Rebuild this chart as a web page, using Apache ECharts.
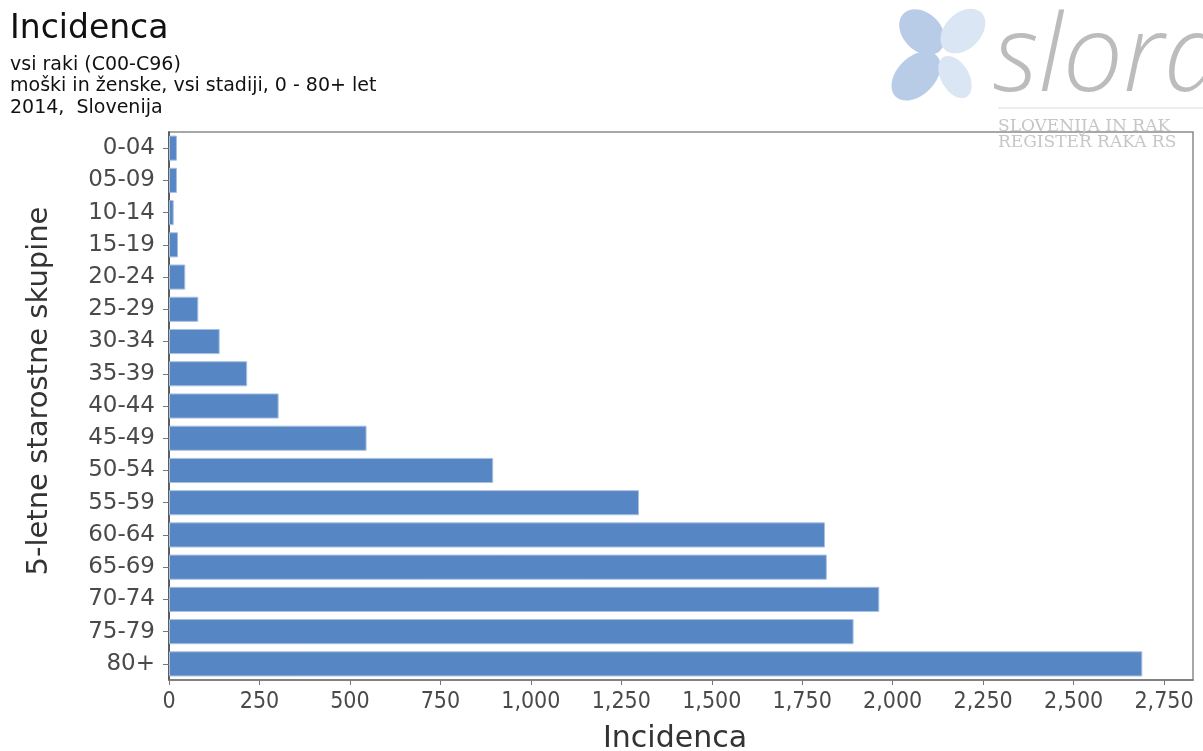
<!DOCTYPE html>
<html>
<head>
<meta charset="utf-8">
<script src="https://cdn.jsdelivr.net/npm/echarts@6/dist/echarts.min.js"></script>
<style>
html,body{margin:0;padding:0;background:#fff;}
#chart{width:1203px;height:751px;}
</style>
</head>
<body>
<div id="chart"></div>
<script>
const categories = ['0-04','05-09','10-14','15-19','20-24','25-29','30-34','35-39','40-44','45-49','50-54','55-59','60-64','65-69','70-74','75-79','80+'];
const incidence = [22, 22, 13, 25, 45, 81, 140, 216, 303, 546, 896, 1299, 1813, 1818, 1963, 1892, 2690];
const titleText = 'Incidenca';
const subtitleLines = ['vsi raki (C00-C96)', 'moški in ženske, vsi stadiji, 0 - 80+ let', '2014,  Slovenija'];
const xAxisName = 'Incidenca';
const yAxisName = '5-letne starostne skupine';

const chart = echarts.init(document.getElementById('chart'));
const option = {
  animation: false,
  backgroundColor: '#fff',
  title: {
    text: titleText,
    subtext: subtitleLines.join('\n'),
    left: 5, top: 8,
    itemGap: 8,
    textStyle: {fontFamily: 'DejaVu Sans', fontSize: 33, fontWeight: 'normal', color: '#111'},
    subtextStyle: {fontFamily: 'DejaVu Sans', fontSize: 19, color: '#111', lineHeight: 21.5}
  },
  graphic: [
    {type: 'ellipse', x: 922, y: 32, rotation: -Math.PI/4, shape: {cx: 0, cy: 0, rx: 26, ry: 19}, style: {fill: '#b9cce7'}},
    {type: 'ellipse', x: 963, y: 31, rotation: Math.PI/4, shape: {cx: 0, cy: 0, rx: 26, ry: 18}, style: {fill: '#dae6f4'}},
    {type: 'ellipse', x: 916, y: 76, rotation: Math.PI/4, shape: {cx: 0, cy: 0, rx: 29, ry: 19}, style: {fill: '#b9cce7'}},
    {type: 'ellipse', x: 955, y: 77, rotation: -Math.PI/3, shape: {cx: 0, cy: 0, rx: 23, ry: 14}, style: {fill: '#dae6f4'}},
    {type: 'text', x: 993, y: 114, style: {text: 'slora', fontFamily: 'Open Sans', fontStyle: 'italic', fontWeight: 300, fontSize: 107, fill: '#bcbcbc', verticalAlign: 'bottom'}},
    {type: 'line', shape: {x1: 998, y1: 108, x2: 1203, y2: 108}, style: {stroke: '#dcdcdc', lineWidth: 1}},
    {type: 'text', x: 998, y: 118, style: {text: 'SLOVENIJA IN RAK', fontFamily: 'DejaVu Serif', fontSize: 17, fill: '#c6c6c6'}},
    {type: 'text', x: 998, y: 134, style: {text: 'REGISTER RAKA RS', fontFamily: 'DejaVu Serif', fontSize: 17, fill: '#c6c6c6'}}
  ],
  grid: {left: 169, top: 132, right: 10, bottom: 71, show: true, borderColor: '#8a8a8a', borderWidth: 1.5, backgroundColor: 'transparent', outerBoundsMode: 'none'},
  xAxis: {
    type: 'value',
    min: 0, max: 2830, interval: 250,
    name: xAxisName, nameLocation: 'middle', nameGap: 44,
    nameTextStyle: {fontFamily: 'DejaVu Sans', fontSize: 30, color: '#333', padding: [0, 12, 0, 0]},
    axisLine: {show: true, lineStyle: {color: '#777', width: 1.5}},
    axisTick: {show: true, length: 5, lineStyle: {color: '#777'}},
    splitLine: {show: false},
    axisLabel: {showMaxLabel: false, margin: 11, fontFamily: 'DejaVu Sans Condensed', fontSize: 23, color: '#4a4a4a',
      formatter: v => v.toLocaleString('en-US')}
  },
  yAxis: {
    type: 'category',
    data: categories,
    inverse: true,
    name: yAxisName, nameLocation: 'middle', nameGap: 115, nameRotate: 90,
    nameTextStyle: {fontFamily: 'DejaVu Sans', fontSize: 29, color: '#333', padding: [0, 0, 0, 30]},
    axisLine: {show: true, lineStyle: {color: '#444', width: 1.5}},
    axisTick: {show: true, alignWithLabel: true, length: 6, lineStyle: {color: '#777'}},
    axisLabel: {margin: 14, fontFamily: 'DejaVu Sans', fontSize: 23, color: '#4a4a4a'}
  },
  series: [{
    type: 'bar',
    data: incidence,
    barCategoryGap: '22%',
    itemStyle: {color: '#5686c4', borderColor: '#a8c0e2', borderWidth: 1}
  }]
};
chart.setOption(option);
</script>
</body>
</html>
